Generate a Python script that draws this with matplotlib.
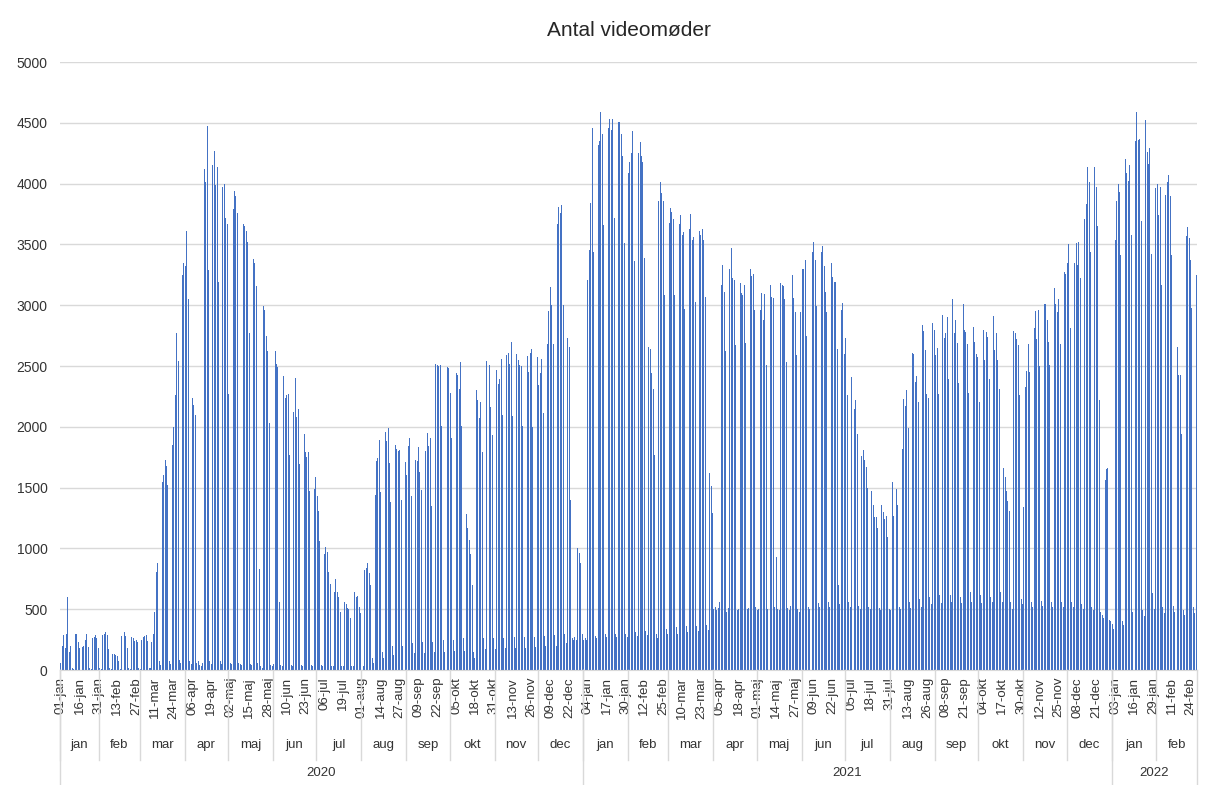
import numpy as np
import pandas as pd
import matplotlib
matplotlib.use('Agg')
import matplotlib.pyplot as plt
from matplotlib import transforms
from matplotlib.lines import Line2D

plt.rcParams['font.family'] = ['Liberation Sans', 'DejaVu Sans']

title = 'Antal videomøder'
month_names = ['jan', 'feb', 'mar', 'apr', 'maj', 'jun', 'jul', 'aug', 'sep', 'okt', 'nov', 'dec']
first_day = '2020-01-01'
last_day = '2022-02-28'
missing_days = ['2020-01-04', '2020-01-05', '2020-01-18', '2020-01-19', '2020-02-16']

# daily counts, one row per week (Mon..Sun)
weeks_2020 = [
    [60, 200, 290],
    [180, 300, 600, 150, 200, 15, 10],
    [300, 300, 230, 180, 170],
    [190, 200, 250, 300, 190, 15, 10],
    [260, 270, 290, 260, 180, 15, 10],
    [290, 300, 310, 290, 170, 15, 10],
    [130, 130, 120, 115, 70, 10],
    [280, 300, 310, 280, 180, 15, 10],
    [270, 260, 240, 250, 230, 15, 10],
    [250, 270, 280, 290, 240, 20, 15],
    [230, 300, 480, 810, 880, 70, 40],
    [1550, 1600, 1730, 1680, 1520, 70, 50],
    [1850, 2000, 2260, 2770, 2540, 80, 60],
    [3250, 3350, 3320, 3610, 3050, 70, 50],
    [2240, 2180, 2100, 60, 70, 40, 30],
    [60, 4120, 4010, 4470, 3290, 70, 50],
    [4150, 4270, 3990, 4140, 3190, 70, 50],
    [3970, 4000, 3720, 3670, 2270, 60, 50],
    [3790, 3940, 3900, 3760, 60, 50, 40],
    [3670, 3650, 3610, 3520, 2770, 50, 40],
    [3380, 3350, 3160, 60, 830, 30, 20],
    [2990, 2960, 2750, 2620, 2030, 40, 30],
    [50, 2620, 2520, 2490, 560, 40, 30],
    [2420, 2240, 2260, 2270, 1770, 40, 30],
    [2120, 2400, 2080, 2150, 1690, 40, 30],
    [1940, 1790, 1750, 1790, 1470, 40, 30],
    [1490, 1590, 1430, 1310, 1060, 40, 30],
    [950, 1010, 970, 810, 710, 30, 30],
    [640, 750, 640, 600, 480, 30, 30],
    [560, 540, 510, 500, 430, 30, 30],
    [640, 600, 610, 520, 470, 40, 30],
    [820, 840, 880, 800, 700, 100, 60],
    [1440, 1720, 1740, 1890, 1460, 150, 100],
    [1960, 1880, 1990, 1700, 1380, 200, 120],
    [1850, 1820, 1800, 1810, 1400, 200, 130],
    [1710, 1600, 1840, 1910, 1430, 220, 140],
    [1730, 1720, 1830, 1630, 1480, 230, 140],
    [1800, 1950, 1840, 1910, 1350, 230, 150],
    [2520, 2510, 2500, 2510, 2010, 250, 150],
    [2540, 2490, 2480, 2280, 1910, 250, 160],
    [2440, 2430, 2310, 2530, 2010, 260, 160],
    [1280, 1170, 1070, 950, 700, 150, 100],
    [2300, 2220, 2070, 2200, 1790, 260, 170],
    [2540, 2570, 2510, 2160, 1930, 260, 170],
    [2470, 2350, 2390, 2560, 2100, 260, 180],
    [2590, 2610, 2520, 2700, 2090, 270, 180],
    [2600, 2550, 2510, 2500, 2010, 270, 180],
    [2580, 2450, 2610, 2640, 2000, 270, 190],
    [2570, 2340, 2440, 2560, 2110, 280, 200],
    [2680, 2950, 3150, 3000, 2680, 290, 200],
    [3670, 3810, 3760, 3820, 3000, 300, 220],
    [2730, 2660, 1400, 260, 250, 270, 250],
    [1000, 960, 880, 300],
]

weeks_2021 = [
    [250, 260, 250],
    [3210, 3450, 3840, 4460, 3440, 280, 260],
    [4320, 4350, 4590, 4410, 3660, 300, 270],
    [4460, 4530, 4440, 4530, 3720, 300, 270],
    [4510, 4510, 4410, 4230, 3510, 300, 270],
    [4090, 4180, 4250, 4430, 3360, 310, 280],
    [4250, 4340, 4230, 4180, 3390, 320, 290],
    [2660, 2640, 2440, 2310, 1770, 300, 260],
    [3860, 4010, 3920, 3860, 3080, 340, 300],
    [3680, 3800, 3770, 3710, 3080, 350, 300],
    [3670, 3740, 3580, 3600, 2970, 360, 310],
    [3630, 3750, 3540, 3560, 3030, 360, 320],
    [3610, 3580, 3630, 3540, 3070, 370, 330],
    [1620, 1510, 1290, 500, 520, 490, 510],
    [560, 3170, 3330, 3110, 2620, 480, 510],
    [3300, 3470, 3220, 3210, 2670, 490, 500],
    [3180, 3100, 3080, 3170, 2690, 500, 510],
    [3300, 3240, 3260, 2960, 520, 490, 500],
    [2960, 3100, 2880, 3090, 2510, 500, 490],
    [3170, 3070, 3060, 520, 930, 500, 490],
    [3180, 3170, 3160, 3050, 2530, 510, 490],
    [530, 3250, 3060, 2940, 2590, 500, 480],
    [2940, 3300, 3300, 3370, 2750, 520, 500],
    [3560, 3440, 3520, 3370, 2990, 550, 520],
    [3440, 3490, 3320, 3110, 2940, 560, 520],
    [3350, 3230, 3190, 3190, 2640, 700, 540],
    [2960, 3020, 2600, 2730, 2260, 560, 520],
    [2410, 2430, 2150, 2220, 1940, 530, 500],
    [1760, 1810, 1730, 1670, 1500, 520, 500],
    [1470, 1360, 1260, 1260, 1170, 510, 490],
    [1360, 1300, 1240, 1270, 1090, 500, 490],
    [1550, 1270, 1070, 1490, 1360, 520, 500],
    [1820, 2230, 2170, 2300, 1990, 560, 510],
    [2610, 2600, 2370, 2420, 2200, 580, 520],
    [2840, 2790, 2630, 2270, 2240, 600, 540],
    [2850, 2800, 2590, 2650, 2270, 620, 550],
    [2920, 2730, 2770, 2900, 2390, 620, 560],
    [3050, 2770, 2880, 2690, 2360, 600, 550],
    [3010, 2800, 2780, 2680, 2280, 640, 560],
    [2820, 2700, 2600, 2570, 2200, 620, 550],
    [2800, 2550, 2780, 2740, 2390, 600, 560],
    [2910, 2630, 2770, 2550, 2310, 640, 560],
    [1660, 1590, 1470, 1390, 1310, 560, 500],
    [2790, 2770, 2720, 2670, 2260, 580, 540],
    [1340, 2330, 2460, 2680, 2450, 560, 520],
    [2810, 2950, 2720, 2960, 2500, 570, 530],
    [3010, 3010, 2880, 2700, 2510, 560, 520],
    [3140, 3010, 2940, 3050, 2680, 560, 520],
    [3270, 3260, 3350, 3500, 2810, 560, 520],
    [3350, 3510, 3330, 3520, 3220, 540, 500],
    [3710, 3830, 4140, 4010, 3440, 520, 490],
    [4140, 3970, 3650, 2220, 480, 450, 430],
    [1560, 1650, 1660, 410, 400],
]

weeks_2022 = [
    [380, 340],
    [3540, 3860, 4000, 3930, 3410, 400, 370],
    [4200, 4090, 4020, 4150, 3580, 480, 420],
    [4350, 4590, 4360, 4370, 3690, 490, 440],
    [4520, 4260, 4160, 4290, 3420, 630, 500],
    [3960, 4000, 3740, 3970, 3170, 520, 470],
    [3910, 4010, 4070, 3900, 3410, 530, 480],
    [2700, 2660, 2430, 2430, 1940, 490, 450],
    [3570, 3640, 3550, 3370, 2980, 520, 470],
    [3250],
]

dates = pd.date_range(first_day, last_day, freq='D')
dates = dates[~dates.isin(pd.to_datetime(missing_days))]
values = [v for week in weeks_2020 + weeks_2021 + weeks_2022 for v in week]
n = len(values)
x = np.arange(n)

W, H = 1213, 785
fig = plt.figure(figsize=(W / 100, H / 100), dpi=100)
ax = fig.add_axes([60 / W, 1 - 670 / H, (1197 - 60) / W, (670 - 62) / H])

ax.bar(x, values, width=0.68, color='#4472C4', linewidth=0)
ax.set_xlim(-0.5, n - 0.5)
ax.set_ylim(0, 5000)
ax.set_yticks(range(0, 5001, 500))
ax.yaxis.grid(True, color='#D9D9D9', linewidth=1)
ax.set_axisbelow(True)
for s in ['top', 'right', 'left']:
    ax.spines[s].set_visible(False)
ax.spines['bottom'].set_color('#D9D9D9')

txt = '#333333'
ax.tick_params(axis='y', length=0, labelsize=10, colors=txt, pad=9)

tick_pos = x[::13]
tick_lab = ['%02d-%s' % (dates[i].day, month_names[dates[i].month - 1]) for i in tick_pos]
ax.set_xticks(tick_pos)
ax.set_xticklabels(tick_lab, rotation=90, fontsize=9.5, color=txt)
ax.tick_params(axis='x', length=0, pad=5)

ax.set_title(title, fontsize=15, color='#262626', pad=19)

# multi-level category axis: months and years
tr = transforms.blended_transform_factory(ax.transData, fig.transFigure)
y_axis = 1 - 670 / H
y_month_line = 1 - 760 / H
y_year_line = 1 - 785 / H
y_month_txt = 1 - 745 / H
y_year_txt = 1 - 773 / H

df = pd.DataFrame({'i': x, 'y': dates.year, 'm': dates.month})
for (yr, mo), g in df.groupby(['y', 'm']):
    a, b = g['i'].min(), g['i'].max()
    ax.text((a + b) / 2, y_month_txt, month_names[mo - 1], transform=tr,
            ha='center', va='center', fontsize=9.5, color=txt)
    fig.add_artist(Line2D([a - 0.5, a - 0.5], [y_axis, y_month_line], transform=tr,
                          color='#D9D9D9', linewidth=1))
for yr, g in df.groupby('y'):
    a, b = g['i'].min(), g['i'].max()
    ax.text((a + b) / 2, y_year_txt, str(yr), transform=tr,
            ha='center', va='center', fontsize=9.5, color=txt)
    fig.add_artist(Line2D([a - 0.5, a - 0.5], [y_axis, y_year_line], transform=tr,
                          color='#D9D9D9', linewidth=1))
fig.add_artist(Line2D([n - 0.5, n - 0.5], [y_axis, y_year_line], transform=tr,
                      color='#D9D9D9', linewidth=1))

fig.savefig('out.png', dpi=100)
